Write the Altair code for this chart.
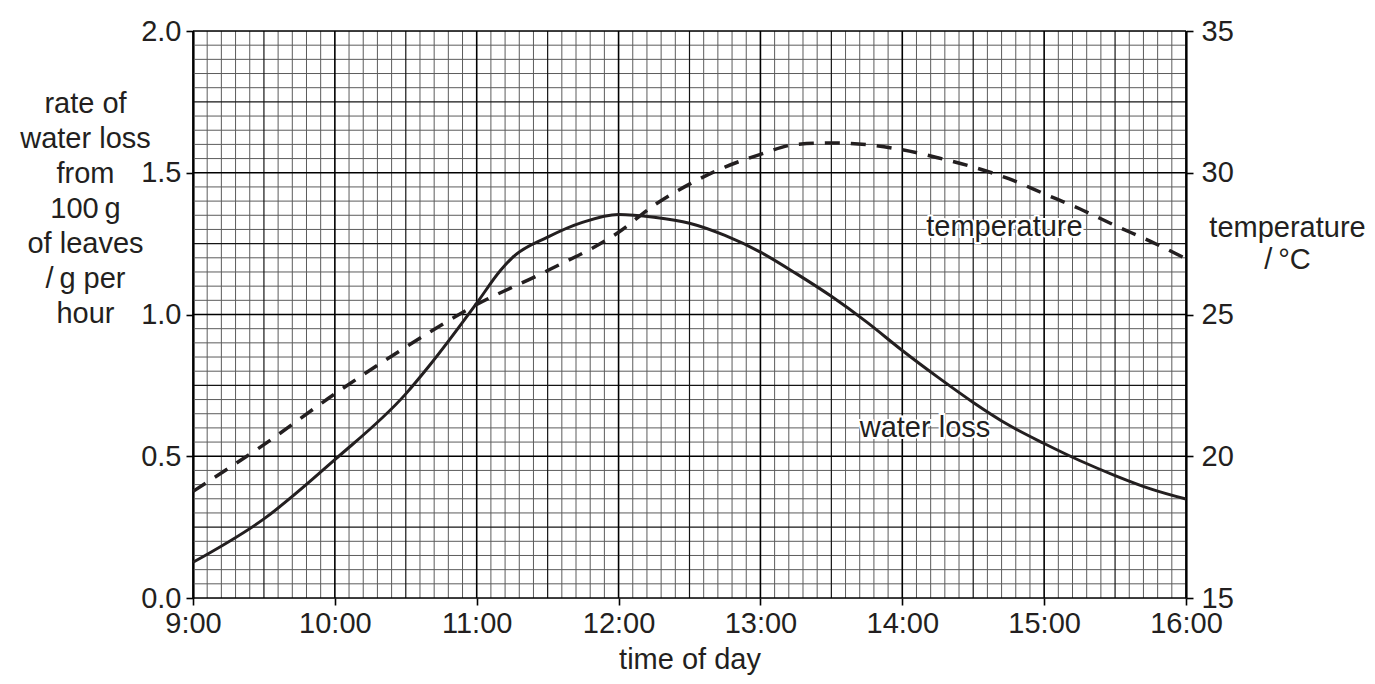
import altair as alt
import pandas as pd

# ---- data ----
water_times = [9.0, 9.5, 10.0, 10.5, 10.667, 11.0, 11.167, 11.25, 11.5, 11.75, 12.0,
               12.25, 12.5, 12.75, 13.0, 13.25, 13.5, 13.75, 14.0, 14.25, 14.5, 14.75,
               15.0, 15.25, 15.5, 15.75, 16.0]
water_loss = [0.126, 0.279, 0.488, 0.72, 0.82, 1.04, 1.155, 1.2, 1.273, 1.326, 1.353,
              1.343, 1.322, 1.279, 1.22, 1.145, 1.064, 0.973, 0.873, 0.779, 0.69, 0.61,
              0.545, 0.485, 0.432, 0.385, 0.349]

temp_times = [9.0, 9.5, 10.0, 10.5, 11.0, 11.5, 12.0, 12.25, 12.5, 12.75, 13.0, 13.25,
              13.5, 13.75, 14.0, 14.25, 14.5, 14.75, 15.0, 15.25, 15.5, 15.75, 16.0]
temperature = [18.76, 20.41, 22.2, 23.85, 25.35, 26.55, 27.9, 28.85, 29.6, 30.2, 30.65,
               31.0, 31.05, 30.99, 30.81, 30.53, 30.2, 29.79, 29.26, 28.73, 28.14, 27.58,
               26.97]

x_ticks = [9, 10, 11, 12, 13, 14, 15, 16]
left_ticks = [0.0, 0.5, 1.0, 1.5, 2.0]
right_ticks = [15, 20, 25, 30, 35]

water_label = {"t": [14.16], "v": [0.60], "text": ["water loss"]}
temp_label = {"t": [14.72], "v": [28.07], "text": ["temperature"]}

left_title = ["rate of", "water loss", "from", "100\u2009g", "of leaves", "/\u2009g per", "hour"]
right_title = ["temperature", "/\u2009\u00b0C"]
x_title = "time of day"

FONT = "Liberation Sans"
FS = 29
TXT = "#231f20"

water_df = pd.DataFrame({"t": water_times, "v": water_loss})
temp_df = pd.DataFrame({"t": temp_times, "v": temperature})

# grid positions (graph paper)
vgrid = pd.DataFrame({"t": [9 + i / 10 for i in range(71)],
                      "k": ["major" if i % 10 == 0 else ("mid" if i % 5 == 0 else "minor") for i in range(71)]})
hgrid = pd.DataFrame({"v": [j * 0.05 for j in range(41)],
                      "k": ["major" if j % 10 == 0 else ("mid" if j % 5 == 0 else "minor") for j in range(41)]})

xscale = alt.Scale(domain=[9, 16], nice=False, zero=False)
yscale_w = alt.Scale(domain=[0, 2], nice=False, zero=False)
yscale_t = alt.Scale(domain=[15, 35], nice=False, zero=False)

x_axis = alt.Axis(values=x_ticks, labelExpr="datum.value + ':00'", grid=False,
                  domain=False, ticks=True, tickSize=7, tickWidth=1.6, tickColor="black",
                  labelFont=FONT, labelFontSize=FS, labelColor=TXT, labelPadding=4,
                  labelFlush=False, labelOverlap=False,
                  title=x_title, titleFont=FONT, titleFontSize=FS, titleFontWeight="normal",
                  titleColor=TXT, titleBaseline="alphabetic", titleY=70)
left_axis = alt.Axis(values=left_ticks, format=".1f", grid=False, domain=True,
                     domainColor="black", domainWidth=2.2, tickSize=7, tickWidth=1.6,
                     tickColor="black", labelFont=FONT, labelFontSize=FS,
                     labelColor=TXT, labelPadding=5, labelFlush=False, labelOverlap=False,
                     title=left_title, titleAngle=0, titleAlign="center",
                     titleBaseline="alphabetic", titleX=-108, titleY=81,
                     titleLineHeight=35, titleFont=FONT, titleFontSize=FS,
                     titleFontWeight="normal", titleColor=TXT)
right_axis = alt.Axis(values=right_ticks, format="d", orient="right", grid=False,
                      domain=True, domainColor="black", domainWidth=2.2, tickSize=7,
                      tickWidth=1.6, tickColor="black", labelFont=FONT, labelFontSize=FS,
                      labelColor=TXT, labelPadding=8, labelFlush=False, labelOverlap=False,
                      title=right_title, titleAngle=0, titleAlign="center",
                      titleBaseline="alphabetic", titleX=101, titleY=205,
                      titleLineHeight=32, titleFont=FONT, titleFontSize=FS,
                      titleFontWeight="normal", titleColor=TXT)

X = lambda: alt.X("t:Q", scale=xscale, axis=x_axis)
YW = lambda: alt.Y("v:Q", scale=yscale_w, axis=left_axis)
YT = lambda: alt.Y("v:Q", scale=yscale_t, axis=right_axis)

grid_style = {"minor": ("#5c5c5c", 1.0), "mid": ("#141414", 1.2), "major": ("#000000", 1.6)}

layers_w = []
for k in ["minor", "mid", "major"]:
    col, wd = grid_style[k]
    layers_w.append(
        alt.Chart(vgrid[vgrid.k == k]).mark_rule(color=col, strokeWidth=wd).encode(x=X())
    )
    layers_w.append(
        alt.Chart(hgrid[hgrid.k == k]).mark_rule(color=col, strokeWidth=wd).encode(y=YW())
    )

water_line = alt.Chart(water_df).mark_line(color=TXT, strokeWidth=3,
                                           interpolate="monotone").encode(x=X(), y=YW())

wl_df = pd.DataFrame(water_label)
water_halo = alt.Chart(wl_df).mark_text(font=FONT, fontSize=FS, stroke="white",
                                        strokeWidth=4, fill="white").encode(
    x=X(), y=YW(), text="text:N")
water_text = alt.Chart(wl_df).mark_text(font=FONT, fontSize=FS, color=TXT).encode(
    x=X(), y=YW(), text="text:N")

water_group = alt.layer(*layers_w, water_line, water_halo, water_text)

temp_line = alt.Chart(temp_df).mark_line(color=TXT, strokeWidth=3.5,
                                         strokeDash=[15, 11],
                                         interpolate="monotone").encode(x=X(), y=YT())
tl_df = pd.DataFrame(temp_label)
temp_halo = alt.Chart(tl_df).mark_text(font=FONT, fontSize=FS, stroke="white",
                                       strokeWidth=4, fill="white").encode(
    x=X(), y=YT(), text="text:N")
temp_text = alt.Chart(tl_df).mark_text(font=FONT, fontSize=FS, color=TXT).encode(
    x=X(), y=YT(), text="text:N")

temp_group = alt.layer(temp_line, temp_halo, temp_text)

chart = alt.layer(water_group, temp_group).resolve_scale(y="independent").properties(
    width=993, height=567,
    autosize=alt.AutoSizeParams(type="none"),
    padding={"left": 185, "top": 23, "right": 181, "bottom": 80},
).configure_view(stroke=None).configure(background="white")

chart.save("out.html", embed_options={"renderer": "svg", "actions": False})
